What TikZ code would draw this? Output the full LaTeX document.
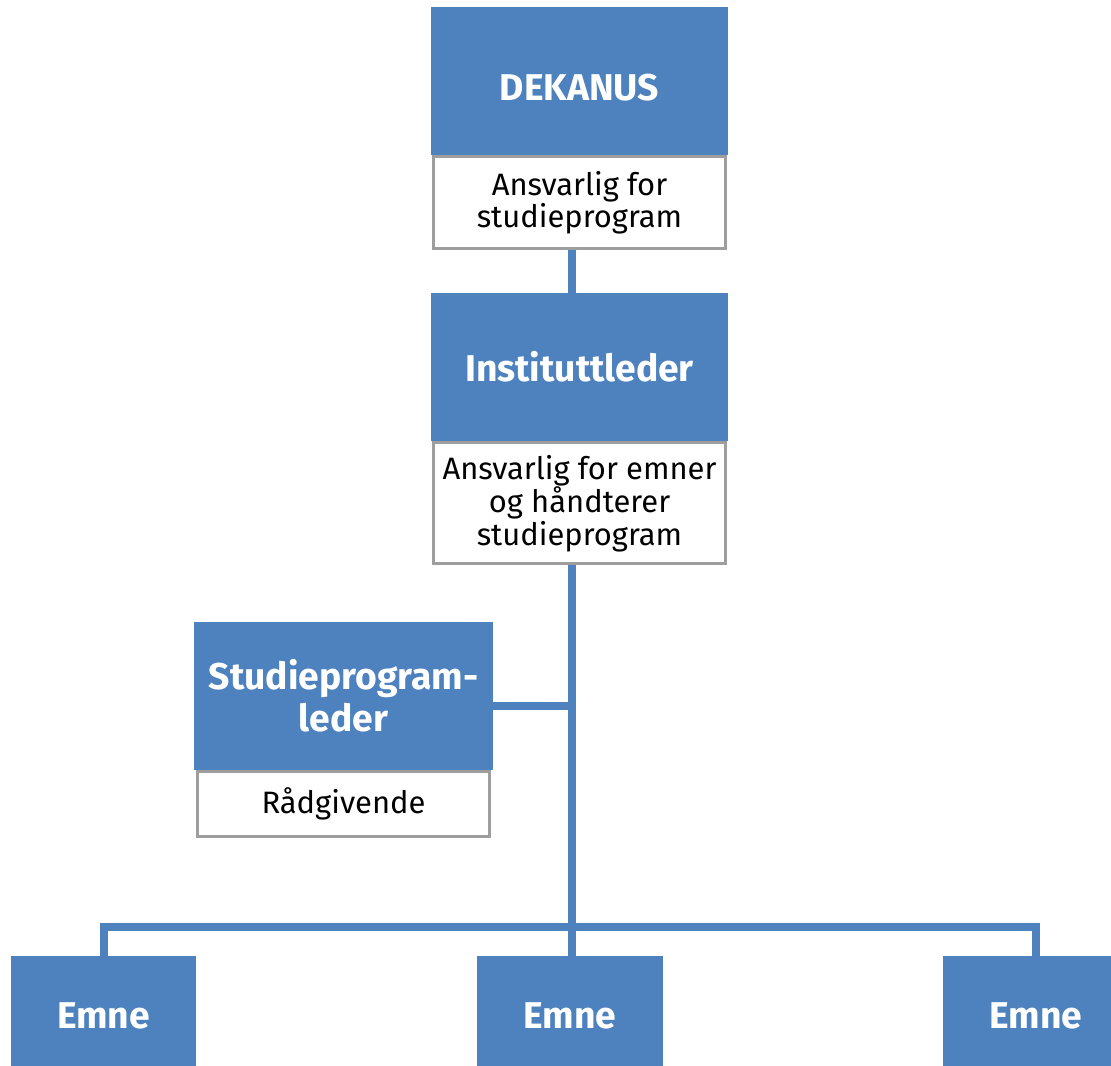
\documentclass[tikz,border=0pt]{standalone}
\usepackage{fontspec}
\setmainfont{Fira Sans}
\usetikzlibrary{positioning}
\definecolor{orgblue}{RGB}{77,130,191}
\definecolor{boxgray}{RGB}{158,158,158}

\begin{document}
\begin{tikzpicture}[x=0.025cm,y=-0.025cm,
  head/.style={fill=orgblue,text=white,inner sep=0pt,align=center,
    minimum width=7.425cm,minimum height=3.7cm,
    font=\bfseries\fontsize{26.5}{30}\selectfont},
  resp/.style={draw=boxgray,line width=0.075cm,fill=white,inner sep=0pt,
    align=center,minimum width=7.3cm,font=\fontsize{22}{22.8}\selectfont},
  emnebox/.style={head,minimum width=4.625cm,minimum height=3cm},
  link/.style={draw=orgblue,line width=0.2cm}]
\useasboundingbox (0,0) rectangle (1111,1065);
\clip (0,0) rectangle (1111,1065);
% boxes
\node[head,text height=0.98cm] (dekanus) at (579.5,81) {DEKANUS};
\node[resp,minimum height=2.3cm,below=0pt of dekanus] (dekanusresp) {Ansvarlig for\\studieprogram};
\node[head] (institutt) at (579.5,367) {Instituttleder};
\node[resp,minimum height=3.025cm,below=0pt of institutt] (instituttresp) {Ansvarlig for emner\\og håndterer\\studieprogram};
\node[head,minimum width=7.475cm] (studieleder) at (343.5,696) {Studieprogram-\\leder};
\node[resp,minimum height=1.625cm,below=0pt of studieleder] (studieresp) {Rådgivende};
\node[emnebox] (emne1) at (103.5,1016) {Emne};
\node[emnebox] (emne2) at (570,1016) {Emne};
\node[emnebox] (emne3) at (1036,1016) {Emne};
% lines
\coordinate (split) at (572,706);
\coordinate (fork) at (572,927);
\draw[link] (dekanusresp.south -| fork) -- (institutt.north -| fork);
\draw[link] (instituttresp.south -| fork) -- (fork);
\draw[link] (studieleder.east |- split) -- (split);
\draw[link] (emne1.north) |- (fork) -| (emne3.north);
\draw[link] (fork) -- (emne2.north -| fork);
\end{tikzpicture}
\end{document}
